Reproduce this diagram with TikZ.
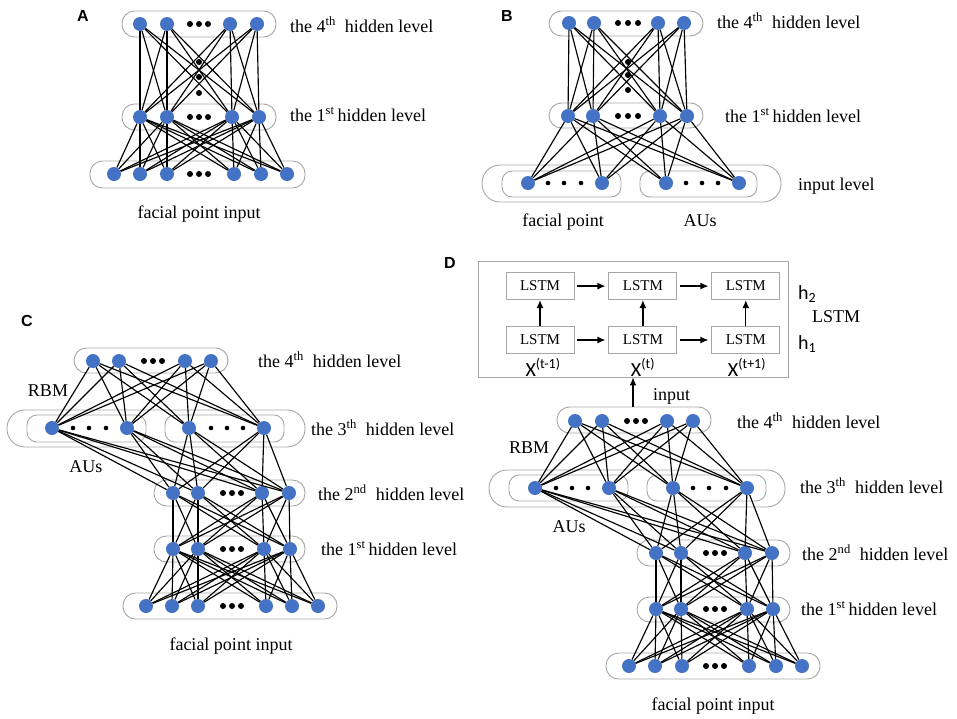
\documentclass[tikz,border=0pt]{standalone}
\usepackage{fontspec}
\setmainfont{Liberation Serif}
\newfontfamily\calfont{Carlito}
\newfontfamily\arialfont{Liberation Sans}
\usepackage{tikz}
\usetikzlibrary{arrows.meta}
\usetikzlibrary{positioning}
\definecolor{unitblue}{HTML}{4472C4}
\definecolor{pillgray}{HTML}{A6A6A6}
\tikzset{>={Latex[length=8pt,width=7pt]}}
\tikzset{
  unit/.style = {circle, fill=unitblue, inner sep=0pt, minimum size=14pt},
  pill/.style = {draw=pillgray, line width=0.9pt, rounded corners=12.5pt},
  widepill/.style = {draw=pillgray, line width=0.9pt, rounded corners=18pt},
  innerpill/.style = {draw=pillgray, line width=0.9pt, rounded corners=10pt},
  link/.style = {line width=1.15pt},
  flow/.style = {->, line width=1.3pt, shorten <=3pt, shorten >=3pt},
  cell/.style = {draw=pillgray, line width=0.9pt, minimum width=68pt, minimum height=27pt, inner sep=0pt, font=\fontsize{15}{17}\selectfont},
  lvl/.style = {anchor=base west, inner sep=0pt, font=\fontsize{18}{20}\selectfont},
  txt/.style = {anchor=base, inner sep=0pt, font=\fontsize{18}{20}\selectfont},
  cal/.style = {anchor=base, inner sep=0pt, font=\calfont\fontsize{20}{22}\selectfont},
  tag/.style = {anchor=base, inner sep=0pt, font=\arialfont\bfseries\fontsize{16}{18}\selectfont}
}

\begin{document}
\begin{tikzpicture}[x=1pt, y=-1pt]
\useasboundingbox (0,0) rectangle (957,718);

% A
\node [tag] (tA) at (83,21) {A};
\draw [pill] (122,11) rectangle (276,37);
\draw [pill] (122,104) rectangle (276,130);
\draw [pill] (90,161) rectangle (305,188);
\foreach \x [count=\i] in {140,167,230,257} \node [unit] (A4-\i) at (\x,24) {};
\foreach \x [count=\i] in {140,167,232,259} \node [unit] (A1-\i) at (\x,117) {};
\foreach \x [count=\i] in {114,140,167,234,261,287} \node [unit] (A0-\i) at (\x,174) {};
\foreach \y in {24,117,174} \foreach \x in {190,199,208} \fill (\x,\y) circle (3pt);
\foreach \y in {62,77,93} \fill (199,\y) circle (3pt);
\foreach \i in {1,...,4} {
  \foreach \j in {1,...,4} \draw [link] (A4-\i) -- (A1-\j);
  \foreach \j in {1,...,6} \draw [link] (A1-\i) -- (A0-\j);
}
\node [lvl] (A4t) at (290,32) {the 4\textsuperscript{th}\ \ hidden level};
\node [lvl] (A1t) at (290,121) {the 1\textsuperscript{st}\,hidden level};
\node [txt] (A0t) at (199,218) {facial point input};

% B
\node [tag] (tB) at (507,21) {B};
\draw [pill] (549,11) rectangle (703,36);
\draw [pill] (549,103) rectangle (703,128);
\draw [widepill] (482,165) rectangle (781,202);
\draw [innerpill] (502,171) rectangle (621,197);
\draw [innerpill] (640,171) rectangle (757,197);
\foreach \x [count=\i] in {569,594,658,684} \node [unit] (B4-\i) at (\x,23) {};
\foreach \x [count=\i] in {568,593,660,687} \node [unit] (B1-\i) at (\x,116) {};
\foreach \x [count=\i] in {528,602,666,739} \node [unit] (B0-\i) at (\x,183) {};
\foreach \y in {23,116} \foreach \x in {618,628,638} \fill (\x,\y) circle (3pt);
\foreach \y in {62,75,90} \fill (628,\y) circle (3pt);
\foreach \x in {548,564,581,686,702,718} \fill (\x,183) circle (2.3pt);
\foreach \i in {1,...,4} {
  \foreach \j in {1,...,4} \draw [link] (B4-\i) -- (B1-\j);
  \foreach \j in {1,...,4} \draw [link] (B1-\i) -- (B0-\j);
}
\node [lvl] (B4t) at (717,28) {the 4\textsuperscript{th}\ \ hidden level};
\node [lvl] (B1t) at (725,122) {the 1\textsuperscript{st}\,hidden level};
\node [lvl] (B0t) at (798,190) {input level};
\node [txt] (Bfp) at (563,226) {facial point};
\node [txt] (Bau) at (700,226) {AUs};

% C
\node [tag] (tC) at (27,326) {C};
\draw [pill] (74,348) rectangle (228,373);
\draw [widepill] (7,410) rectangle (305,447);
\draw [innerpill] (27,415) rectangle (146,442);
\draw [innerpill] (165,415) rectangle (284,442);
\draw [pill] (154,480) rectangle (305,506);
\draw [pill] (154,536) rectangle (305,562);
\draw [pill] (123,593) rectangle (337,619);
\foreach \x [count=\i] in {93,119,185,211} \node [unit] (C4-\i) at (\x,361) {};
\foreach \x [count=\i] in {52,127,189,264} \node [unit] (C3-\i) at (\x,428) {};
\foreach \x [count=\i] in {173,198,262,289} \node [unit] (C2-\i) at (\x,493) {};
\foreach \x [count=\i] in {173,198,264,290} \node [unit] (C1-\i) at (\x,549) {};
\foreach \x [count=\i] in {146,172,198,266,292,318} \node [unit] (C0-\i) at (\x,606) {};
\foreach \x in {144,153,162} \fill (\x,361) circle (3pt);
\foreach \y in {493,549,606} \foreach \x in {223,232,241} \fill (\x,\y) circle (3pt);
\foreach \x in {73,89,106,211,227,243} \fill (\x,428) circle (2.3pt);
\foreach \i in {1,...,4} {
  \foreach \j in {1,...,4} \draw [link] (C4-\i) -- (C3-\j);
  \foreach \j in {1,...,4} \draw [link] (C3-\i) -- (C2-\j);
  \foreach \j in {1,...,4} \draw [link] (C2-\i) -- (C1-\j);
  \foreach \j in {1,...,6} \draw [link] (C1-\i) -- (C0-\j);
}
\node [lvl] (C4t) at (258,367) {the 4\textsuperscript{th}\ \ hidden level};
\node [lvl] (C3t) at (311,435) {the 3\textsuperscript{th}\ \ hidden level};
\node [lvl] (C2t) at (318,500) {the 2\textsuperscript{nd}\ \ hidden level};
\node [lvl] (C1t) at (321,555) {the 1\textsuperscript{st}\,hidden level};
\node [txt] (Crbm) at (48,396) {RBM};
\node [txt] (Cau) at (86,472) {AUs};
\node [txt] (C0t) at (231,650) {facial point input};

% D
\node [tag] (tD) at (450,268) {D};
\node [draw=pillgray, line width=0.9pt, minimum width=310pt, minimum height=116pt, inner sep=0pt] (lstm) at (633,319) {};
\node [cell] (L11) at (540,340) {LSTM};
\node [cell, right=34pt of L11] (L12) {LSTM};
\node [cell, right=34pt of L12] (L13) {LSTM};
\node [cell, above=26pt of L11] (L21) {LSTM};
\node [cell, above=26pt of L12] (L22) {LSTM};
\node [cell, above=26pt of L13] (L23) {LSTM};
\draw [flow] (L11) -- (L12);
\draw [flow] (L12) -- (L13);
\draw [flow] (L21) -- (L22);
\draw [flow] (L22) -- (L23);
\draw [flow, shorten <=0pt, shorten >=0pt] (L11) -- (L21);
\draw [flow, shorten <=0pt, shorten >=0pt] (L12) -- (L22);
\draw [flow, shorten <=0pt, shorten >=0pt] (L13) -- (L23);
\node [cal] (xa) at (543,376) {X\textsuperscript{(t-1)}};
\node [cal] (xb) at (643,376) {X\textsuperscript{(t)}};
\node [cal] (xc) at (747,376) {X\textsuperscript{(t+1)}};
\node [cal, anchor=base west] (h2) at (798,299) {h\textsubscript{2}};
\node [cal, anchor=base west] (h1) at (798,349) {h\textsubscript{1}};
\node [lvl] (Dl) at (812,322) {LSTM};

\draw [pill] (557,407) rectangle (711,433);
\draw [widepill] (489,470) rectangle (785,507);
\draw [innerpill] (509,475) rectangle (628,501);
\draw [innerpill] (647,475) rectangle (766,501);
\draw [pill] (637,540) rectangle (790,566);
\draw [pill] (637,597) rectangle (790,622);
\draw [pill] (606,653) rectangle (820,679);
\coordinate (Din) at (633,407);
\draw [flow, shorten <=0pt, shorten >=0pt] (Din) -- (lstm.south);
\node [lvl] (Dinput) at (653,400) {input};
\foreach \x [count=\i] in {575,602,667,693} \node [unit] (D4-\i) at (\x,421) {};
\foreach \x [count=\i] in {535,609,673,747} \node [unit] (D3-\i) at (\x,488) {};
\foreach \x [count=\i] in {656,681,745,772} \node [unit] (D2-\i) at (\x,553) {};
\foreach \x [count=\i] in {656,681,747,773} \node [unit] (D1-\i) at (\x,609) {};
\foreach \x [count=\i] in {629,655,682,749,776,802} \node [unit] (D0-\i) at (\x,666) {};
\foreach \x in {627,636,645} \fill (\x,421) circle (3pt);
\foreach \y in {553,609,666} \foreach \x in {706,715,724} \fill (\x,\y) circle (3pt);
\foreach \x in {556,572,588,693,709,726} \fill (\x,488) circle (2.3pt);
\foreach \i in {1,...,4} {
  \foreach \j in {1,...,4} \draw [link] (D4-\i) -- (D3-\j);
  \foreach \j in {1,...,4} \draw [link] (D3-\i) -- (D2-\j);
  \foreach \j in {1,...,4} \draw [link] (D2-\i) -- (D1-\j);
  \foreach \j in {1,...,6} \draw [link] (D1-\i) -- (D0-\j);
}
\node [lvl] (D4t) at (737,428) {the 4\textsuperscript{th}\ \ hidden level};
\node [lvl] (D3t) at (800,493) {the 3\textsuperscript{th}\ \ hidden level};
\node [lvl] (D2t) at (802,560) {the 2\textsuperscript{nd}\ \ hidden level};
\node [lvl] (D1t) at (801,615) {the 1\textsuperscript{st}\,hidden level};
\node [txt] (Drbm) at (529,453) {RBM};
\node [txt] (Dau) at (569,532) {AUs};
\node [txt] (D0t) at (713,710) {facial point input};
\end{tikzpicture}
\end{document}
